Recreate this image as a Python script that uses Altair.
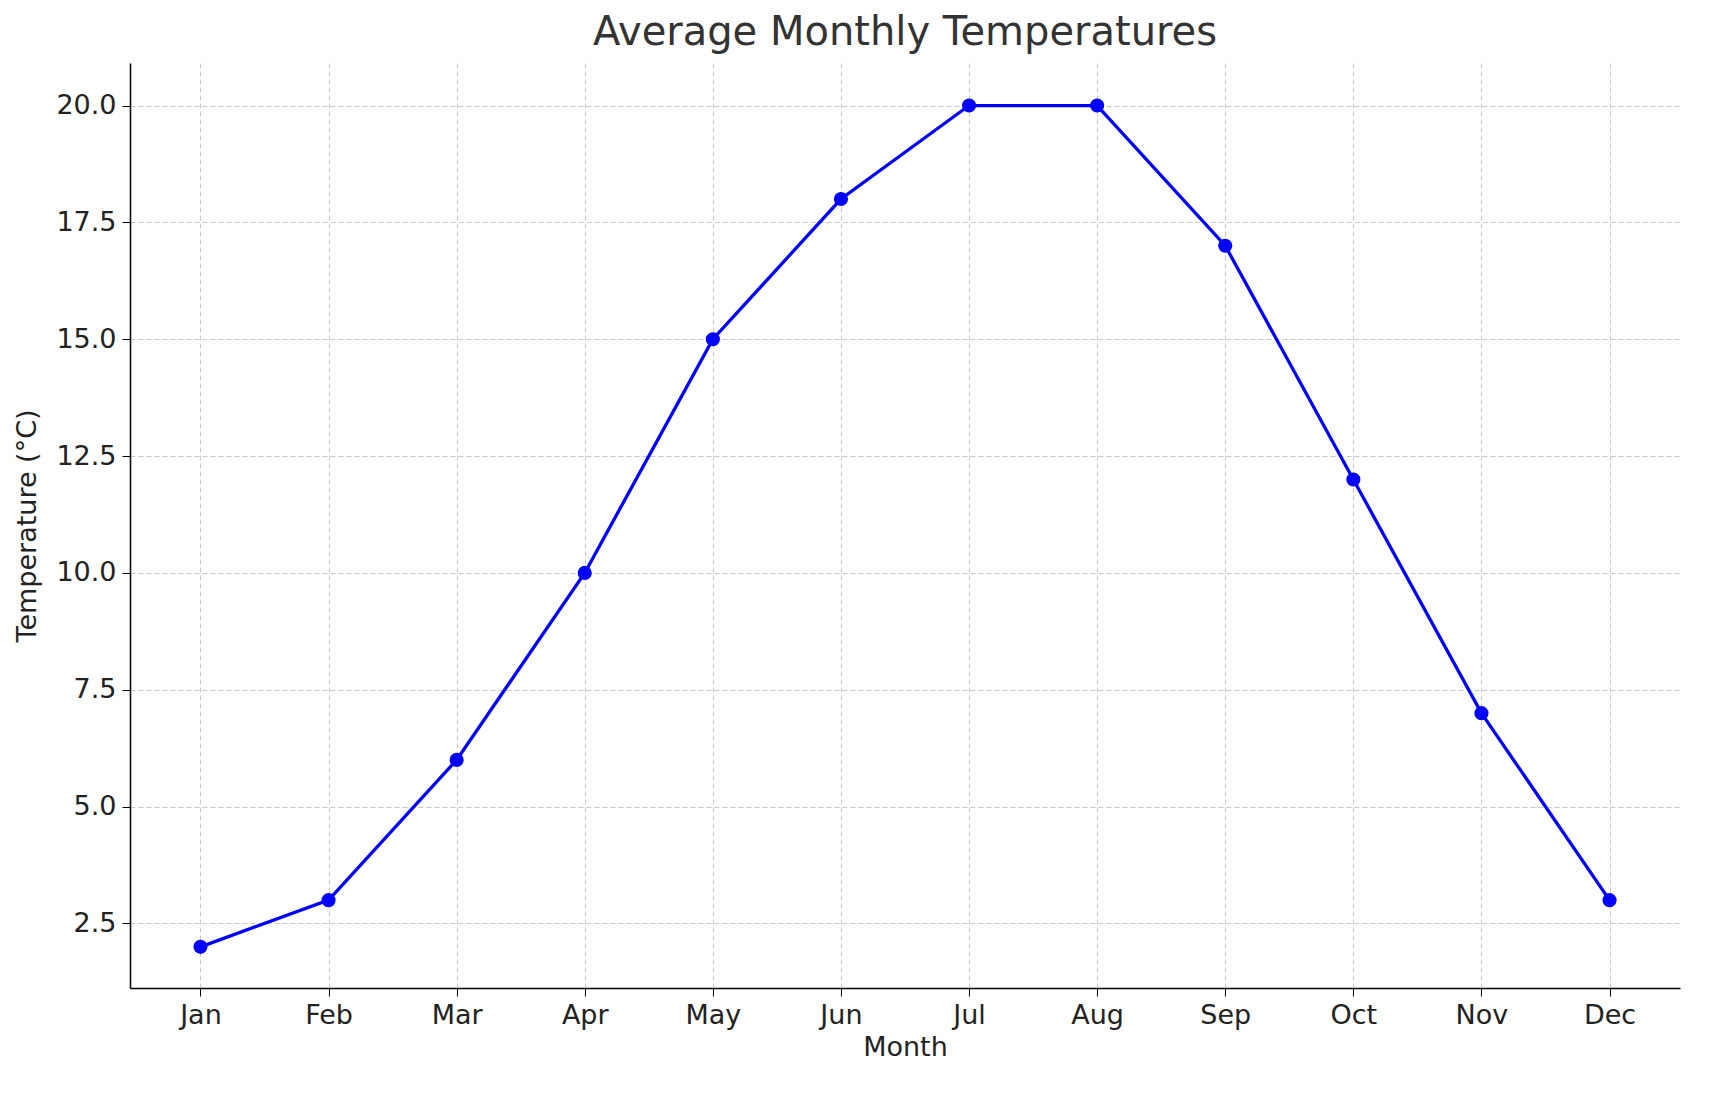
import altair as alt
import pandas as pd

months = ["Jan", "Feb", "Mar", "Apr", "May", "Jun", "Jul", "Aug", "Sep", "Oct", "Nov", "Dec"]
temps = [2, 3, 6, 10, 15, 18, 20, 20, 17, 12, 7, 3]
y_ticks = [2.5, 5.0, 7.5, 10.0, 12.5, 15.0, 17.5, 20.0]

df = pd.DataFrame({"month": months, "temp": temps})

base = alt.Chart(df).encode(
    x=alt.X(
        "month:N",
        sort=months,
        scale=alt.Scale(type="point", padding=0.55),
        axis=alt.Axis(
            title="Month", labelAngle=0, grid=True, gridDash=[5, 3], gridColor="#c8c8c8",
            domainColor="black", domainWidth=1.5, tickColor="black", labelFontSize=27,
            titleFontSize=27, labelColor="#222", titleColor="#222", titleFontWeight="normal",
            tickSize=8, labelPadding=6, titlePadding=6,
        ),
    ),
    y=alt.Y(
        "temp:Q",
        scale=alt.Scale(domain=[1.12, 20.91], nice=False, zero=False),
        axis=alt.Axis(
            title="Temperature (°C)", values=y_ticks, format=".1f", grid=True,
            gridDash=[5, 3], gridColor="#c8c8c8", domainColor="black", domainWidth=1.5,
            tickColor="black", labelFontSize=27, titleFontSize=27, labelColor="#222",
            titleColor="#222", titleFontWeight="normal", tickSize=8, labelPadding=6,
            titlePadding=14,
        ),
    ),
)

line = base.mark_line(color="blue", strokeWidth=3.3)
points = base.mark_circle(color="blue", size=200, opacity=1)

chart = (
    (line + points)
    .properties(
        width=1550,
        height=925,
        title=alt.Title("Average Monthly Temperatures", fontSize=40, fontWeight="normal",
                        color="#333", offset=10),
    )
    .configure(font="DejaVu Sans")
    .configure_view(stroke=None)
)

chart.save("out.html", embed_options={"renderer": "svg", "actions": False})
